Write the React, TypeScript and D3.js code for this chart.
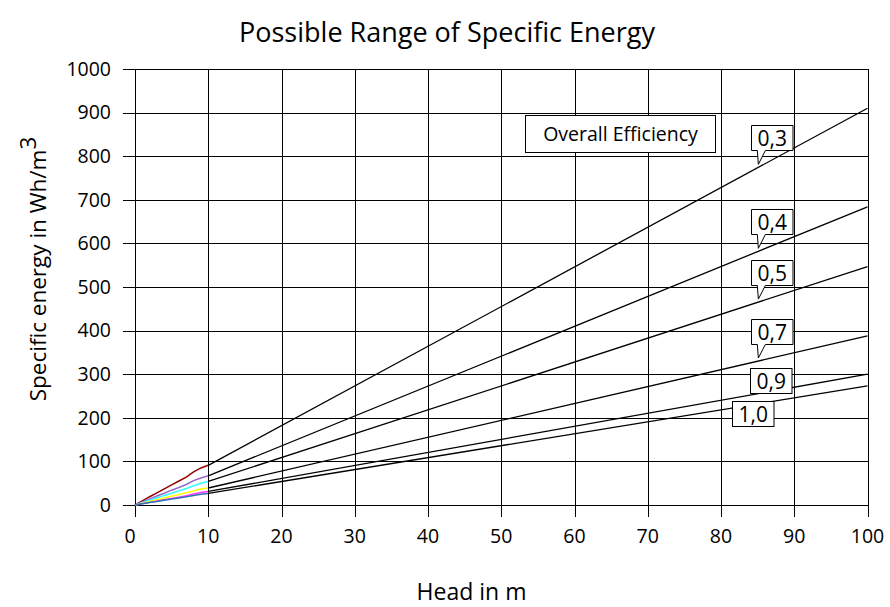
import React from "react";
import * as d3 from "d3";

// ---- data ----
const efficiencies = ["0,3", "0,4", "0,5", "0,7", "0,9", "1,0"];
const lowHeads = [0, 1, 2, 3, 4, 5, 6, 7, 8, 9, 10];
// measured low-head segments (0..10 m), one per efficiency
const low03 = [0, 9.5, 19, 28, 37, 46, 55, 64, 76, 85, 91];
const low04 = [0, 7, 14, 20.5, 27, 34, 40, 47, 56, 62, 67];
const low05 = [0, 5.5, 11, 16.5, 22, 27, 32.5, 38, 44, 50, 54];
const low07 = [0, 4, 8, 12, 16, 20, 24, 28, 32, 36.5, 39];
const low09 = [0, 3, 6, 9, 12, 15, 18, 21, 25, 28.5, 31];
const low10 = [0, 2.7, 5.5, 8, 11, 13.5, 16, 19, 22, 24.5, 26.5];
const lowSeries = [low03, low04, low05, low07, low09, low10];
// straight ranges from 10 m to 100 m
const highHeads = [10, 100];
const high03 = [91, 910];
const high04 = [67, 684];
const high05 = [54, 547];
const high07 = [39, 388];
const high09 = [31, 300];
const high10 = [26.5, 273];
const highSeries = [high03, high04, high05, high07, high09, high10];
const lowColors = ["#990000", "#9966CC", "#33FFFF", "#FFFF00", "#FF33FF", "#2E75B6"];

const xTicks = [0, 10, 20, 30, 40, 50, 60, 70, 80, 90, 100];
const yTicks = [0, 100, 200, 300, 400, 500, 600, 700, 800, 900, 1000];

const titleText = "Possible Range of Specific Energy";
const xTitle = "Head in m";
const legendText = "Overall Efficiency";

// callout anchor heads (where the label points to / centres on)
const calloutHead = [85.1, 85.1, 85.1, 85.1, 86.8, 84.4];
const calloutPointer = [true, true, true, true, false, false];
const plainOffset = [0, 0, 0, 0, -11, 9];

const W = 890;
const H = 607;
const FONT = "'Open Sans', 'DejaVu Sans', sans-serif";

export default function App() {
  const x = d3.scaleLinear().domain([0, 100]).range([135, 867.5]);
  const y = d3.scaleLinear().domain([0, 1000]).range([505, 69]);
  const line = d3
    .line<[number, number]>()
    .x((d) => x(d[0]))
    .y((d) => y(d[1]));

  const valueAt = (i: number, h: number) => {
    const s = highSeries[i];
    return s[0] + ((s[1] - s[0]) * (h - highHeads[0])) / (highHeads[1] - highHeads[0]);
  };

  const crisp = (v: number) => Math.round(v) + 0.5;

  return (
    <svg
      width={W}
      height={H}
      style={{ position: "absolute", left: 0, top: 0, background: "#fff" }}
      fontFamily={FONT}
    >
      <rect x={0} y={0} width={W} height={H} fill="#fff" />
      {/* grid: vertical */}
      {xTicks.map((t) => (
        <line
          key={"vx" + t}
          x1={crisp(x(t))}
          x2={crisp(x(t))}
          y1={y(1000)}
          y2={y(0) + 12}
          stroke="#000"
          strokeWidth={1}
          shapeRendering="crispEdges"
        />
      ))}
      {/* grid: horizontal */}
      {yTicks.map((t) => (
        <line
          key={"hy" + t}
          x1={x(0) - 12}
          x2={x(100)}
          y1={crisp(y(t))}
          y2={crisp(y(t))}
          stroke="#000"
          strokeWidth={1}
          shapeRendering="crispEdges"
        />
      ))}
      {/* tick labels */}
      {xTicks.map((t) => (
        <text
          key={"xl" + t}
          x={x(t) - (t === 0 ? 5 : 0)}
          y={543}
          textAnchor="middle"
          fontSize={19.5}
          fill="#000"
        >
          {t}
        </text>
      ))}
      {yTicks.map((t) => (
        <text
          key={"yl" + t}
          x={111}
          y={y(t)}
          dy="0.35em"
          textAnchor="end"
          fontSize={19.5}
          fill="#000"
        >
          {t}
        </text>
      ))}
      {/* low head segments */}
      {lowSeries.map((s, i) => (
        <path
          key={"low" + i}
          d={line(lowHeads.map((h, j) => [h, s[j]] as [number, number])) || ""}
          fill="none"
          stroke={lowColors[i]}
          strokeWidth={1.5}
        />
      ))}
      {/* high head lines */}
      {highSeries.map((s, i) => (
        <path
          key={"high" + i}
          d={line(highHeads.map((h, j) => [h, s[j]] as [number, number])) || ""}
          fill="none"
          stroke="#000"
          strokeWidth={1.3}
        />
      ))}
      {/* legend title box */}
      <rect x={525.5} y={115.5} width={190} height={37} fill="#fff" stroke="#000" strokeWidth={1} />
      <text x={620.5} y={134} dy="0.35em" textAnchor="middle" fontSize={19.5} fill="#000">
        {legendText}
      </text>
      {/* callouts */}
      {efficiencies.map((lab, i) => {
        const h = calloutHead[i];
        const tx = x(h);
        const ty = y(valueAt(i, h));
        if (calloutPointer[i]) {
          const tipY = ty - 3;
          const left = Math.round(tx - 7.6) + 0.5;
          const right = left + 41.5;
          const top = Math.round(tipY - 39) + 0.5;
          const bottom = top + 25;
          const d = `M${left},${top}H${right}V${bottom}H${tx + 7}L${tx},${tipY}L${tx - 1},${bottom}H${left}Z`;
          return (
            <g key={"co" + i}>
              <path d={d} fill="#fff" stroke="#000" strokeWidth={1} />
              <text x={(left + right) / 2} y={(top + bottom) / 2} dy="0.36em" textAnchor="middle" fontSize={21} fill="#000">
                {lab}
              </text>
            </g>
          );
        }
        // plain boxes
        const cy = ty + plainOffset[i];
        const left = Math.round(tx - 21) + 0.5;
        const top = Math.round(cy - 12.5) + 0.5;
        return (
          <g key={"co" + i}>
            <rect x={left} y={top} width={41.5} height={25} fill="#fff" stroke="#000" strokeWidth={1} />
            <text x={left + 20.75} y={top + 12.5} dy="0.36em" textAnchor="middle" fontSize={21} fill="#000">
              {lab}
            </text>
          </g>
        );
      })}
      {/* titles */}
      <text x={447} y={33} dy="0.35em" textAnchor="middle" fontSize={27} fill="#000">
        {titleText}
      </text>
      <text x={471.5} y={600} textAnchor="middle" fontSize={23} fill="#000">
        {xTitle}
      </text>
      <text
        transform={`translate(38,${y(500) - 18}) rotate(-90)`}
        textAnchor="middle"
        dy="0.35em"
        fontSize={22.5}
        fill="#000"
      >
        Specific energy in Wh/m<tspan dy="-0.45em">3</tspan>
      </text>
    </svg>
  );
}
